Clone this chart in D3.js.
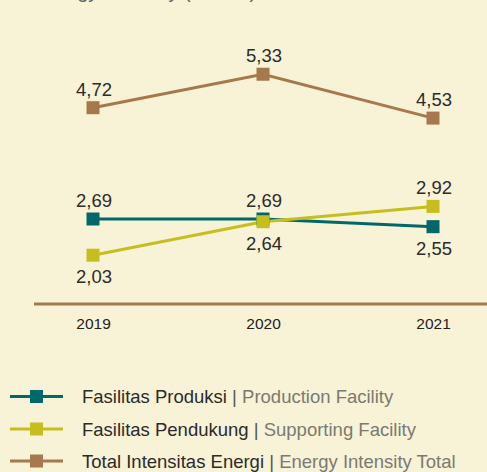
<!DOCTYPE html>
<html>
<head>
<meta charset="utf-8">
<script src="https://cdn.jsdelivr.net/npm/d3@7"></script>
<style>
  html, body { margin: 0; padding: 0; background: #f8f2d6; }
  svg { display: block; font-family: "Liberation Sans", Arial, Helvetica, sans-serif; }
</style>
</head>
<body>
<svg id="chart" width="487" height="472"></svg>
<script>
// Years on the x axis
const years = ["2019", "2020", "2021"];

// Energy intensity per facility type
const produksi = [2.69, 2.69, 2.55];
const pendukung = [2.03, 2.64, 2.92];
const total = [4.72, 5.33, 4.53];

// Label placement for each point (above or below its marker)
const produksiLabelPos = ["above", "above", "below"];
const pendukungLabelPos = ["below", "below", "above"];
const totalLabelPos = ["above", "above", "above"];

// Legend names: Indonesian | English
const seriesNamesId = ["Fasilitas Produksi", "Fasilitas Pendukung", "Total Intensitas Energi"];
const seriesNamesEn = ["Production Facility", "Supporting Facility", "Energy Intensity Total"];

const colors = ["#006869", "#c6be1f", "#a7784b"];

const series = [
  { values: produksi, pos: produksiLabelPos, color: colors[0] },
  { values: pendukung, pos: pendukungLabelPos, color: colors[1] },
  { values: total, pos: totalLabelPos, color: colors[2] }
];

const svg = d3.select("#chart");
const fmt = v => d3.format(".2f")(v).replace(".", ",");

// Chart title, sitting mostly above the top edge
svg.append("text")
  .attr("x", 35).attr("y", -2.5)
  .attr("font-size", 20)
  .attr("fill", "#666")
  .text("Energy Intensity (GJ/ton)");

const x = d3.scalePoint().domain(years).range([93, 433]);
const y = d3.scaleLinear().domain([0, 6]).range([366.5, 37.5]);
const axisY = 304;

// Bottom axis
const xAxis = svg.append("g")
  .attr("transform", `translate(0,${axisY})`)
  .call(d3.axisBottom(x).tickSize(0).tickPadding(14));
xAxis.select(".domain").remove();
xAxis.selectAll("text")
  .attr("font-size", 15.5)
  .attr("font-family", "Liberation Sans, Arial, sans-serif")
  .attr("fill", "#222");
svg.append("line")
  .attr("x1", 34).attr("x2", 487)
  .attr("y1", axisY).attr("y2", axisY)
  .attr("stroke", "#a7784b").attr("stroke-width", 3);

const line = d3.line().x((d, i) => x(years[i])).y(d => y(d));
const sq = 13;

// Lines first, then markers, then value labels
series.forEach(s => {
  svg.append("path")
    .datum(s.values)
    .attr("d", line)
    .attr("fill", "none")
    .attr("stroke", s.color)
    .attr("stroke-width", 3);
});
series.forEach(s => {
  svg.selectAll(null)
    .data(s.values)
    .enter().append("rect")
    .attr("x", (d, i) => x(years[i]) - sq / 2)
    .attr("y", d => y(d) - sq / 2)
    .attr("width", sq).attr("height", sq)
    .attr("fill", s.color);
});
series.forEach(s => {
  svg.selectAll(null)
    .data(s.values)
    .enter().append("text")
    .attr("x", (d, i) => x(years[i]) + 1)
    .attr("y", (d, i) => y(d) + (s.pos[i] === "above" ? -12 : 28))
    .attr("text-anchor", "middle")
    .attr("font-size", 18.5)
    .attr("fill", "#2b2b2b")
    .text(d => fmt(d));
});

// Legend
const legend = svg.append("g");
const rowY = [396.5, 429, 461];
seriesNamesId.forEach((name, i) => {
  const g = legend.append("g").attr("transform", `translate(0,${rowY[i]})`);
  g.append("line").attr("x1", 10).attr("x2", 63).attr("y1", 0).attr("y2", 0)
    .attr("stroke", colors[i]).attr("stroke-width", 3);
  g.append("rect").attr("x", 30).attr("y", -6.5).attr("width", 13).attr("height", 13)
    .attr("fill", colors[i]);
  const t = g.append("text").attr("x", 82).attr("y", 6.5).attr("font-size", 18.5);
  t.append("tspan").attr("fill", "#2b2b2b").text(name + " ");
  t.append("tspan").attr("fill", "#555").text("| ");
  t.append("tspan").attr("fill", "#7a7a72").text(seriesNamesEn[i]);
});
</script>
</body>
</html>
